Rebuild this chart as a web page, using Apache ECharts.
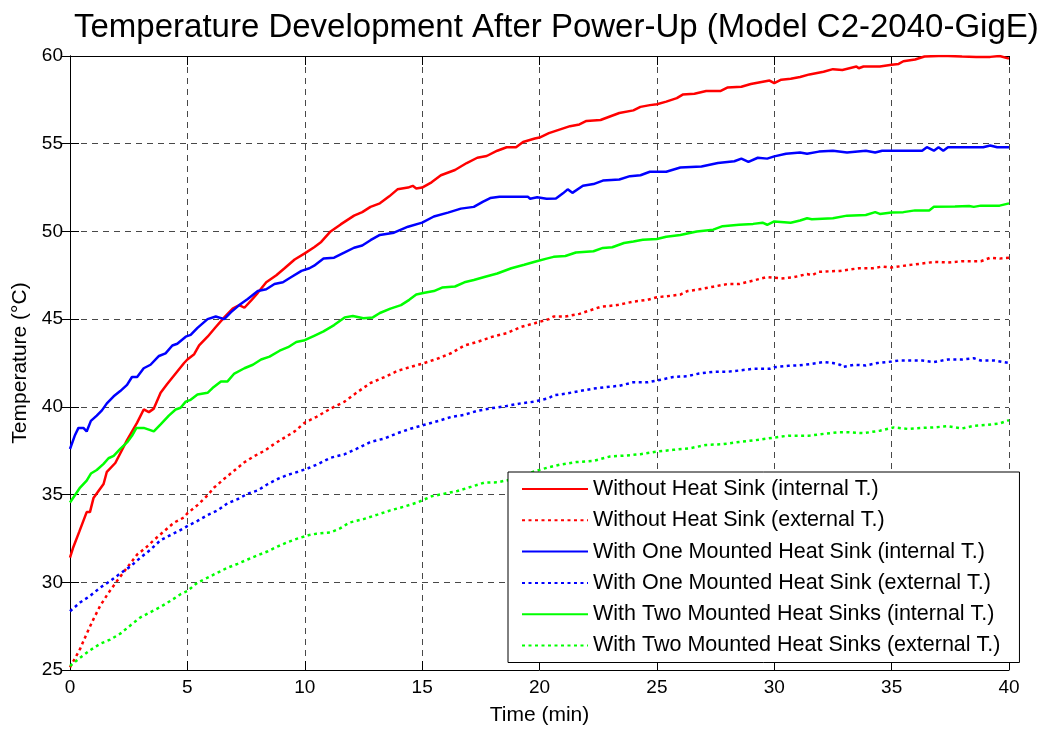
<!DOCTYPE html>
<html>
<head>
<meta charset="utf-8">
<script src="https://cdn.jsdelivr.net/npm/echarts@6/dist/echarts.min.js"></script>
<style>
  html, body { margin: 0; padding: 0; background: #fff; }
  #chart { width: 1050px; height: 731px; }
</style>
</head>
<body>
<div id="chart"></div>
<script>
// [time (min), temperature (°C)]
const noSinkInternal = [[0,31.4],[0.14,32.0],[0.4,32.9],[0.71,34.0],[0.85,34.0],[1.0,34.8],[1.43,35.6],[1.57,36.3],[1.93,36.8],[2.43,38.1],[2.86,39.1],[3.14,39.85],[3.36,39.7],[3.57,39.9],[3.86,40.8],[4.14,41.3],[4.5,41.9],[4.86,42.5],[5.0,42.7],[5.29,43.0],[5.5,43.5],[5.86,44.0],[6.21,44.55],[6.57,45.1],[6.93,45.6],[7.21,45.8],[7.43,45.65],[7.71,46.05],[8.0,46.5],[8.36,47.1],[8.79,47.5],[9.14,47.9],[9.57,48.4],[10,48.75],[10.4,49.1],[10.7,49.4],[11.1,50.0],[11.53,50.4],[12.1,50.9],[12.45,51.1],[12.8,51.4],[13.2,51.6],[13.6,52.0],[13.95,52.4],[14.4,52.5],[14.6,52.6],[14.75,52.45],[15.0,52.5],[15.4,52.8],[15.8,53.2],[16.4,53.5],[16.9,53.9],[17.35,54.2],[17.75,54.3],[18.2,54.6],[18.6,54.8],[19.0,54.8],[19.3,55.1],[19.8,55.3],[20,55.35],[20.4,55.6],[20.85,55.8],[21.3,56.0],[21.7,56.1],[22.0,56.3],[22.6,56.35],[23.0,56.55],[23.4,56.75],[24.0,56.9],[24.3,57.1],[24.7,57.2],[25,57.25],[25.4,57.4],[25.85,57.6],[26.1,57.8],[26.6,57.85],[27.1,58.0],[27.7,58.0],[28.0,58.2],[28.6,58.25],[29.0,58.4],[29.4,58.5],[29.8,58.6],[30,58.45],[30.3,58.65],[30.7,58.7],[31.1,58.8],[31.5,58.95],[32.1,59.1],[32.5,59.25],[32.9,59.2],[33.2,59.3],[33.5,59.4],[33.6,59.3],[33.8,59.4],[34.5,59.4],[35,59.5],[35.3,59.55],[35.5,59.7],[36.0,59.8],[36.4,59.97],[37.0,60.0],[37.4,60.0],[38.0,59.97],[38.6,59.95],[39.2,59.95],[39.6,60.0],[40,59.85]];
const noSinkExternal = [[0,25.15],[0.21,25.66],[0.43,26.2],[0.71,27.07],[1.0,27.9],[1.29,28.67],[1.64,29.4],[2.0,30.07],[2.43,30.83],[2.86,31.58],[3.21,31.95],[3.57,32.4],[4.0,32.9],[4.43,33.4],[4.86,33.7],[5,33.93],[5.43,34.4],[5.86,34.96],[6.14,35.4],[6.57,35.9],[7.0,36.37],[7.43,36.84],[7.86,37.2],[8.29,37.5],[8.71,37.9],[9.14,38.25],[9.57,38.6],[10,39.1],[10.5,39.43],[11.1,39.9],[11.7,40.3],[12.2,40.8],[12.8,41.36],[13.4,41.7],[13.95,42.05],[14.5,42.27],[15.1,42.5],[15.7,42.77],[16.25,43.07],[16.8,43.5],[17.35,43.7],[18.0,44.0],[18.6,44.2],[19.2,44.55],[19.8,44.77],[20.4,45.0],[20.6,45.15],[21.1,45.15],[21.7,45.3],[22.6,45.7],[23.3,45.8],[24.0,46.0],[24.6,46.1],[25,46.25],[25.4,46.3],[26.0,46.4],[26.3,46.6],[26.8,46.7],[27.4,46.85],[28.0,47.0],[28.5,47.0],[29.1,47.2],[29.7,47.4],[30.3,47.32],[30.8,47.38],[31.4,47.57],[31.6,47.5],[31.9,47.7],[32.8,47.75],[33.6,47.9],[34.2,47.9],[34.6,48.0],[35,47.94],[35.7,48.08],[36.3,48.17],[36.8,48.26],[37.4,48.23],[38,48.3],[38.8,48.3],[39.2,48.5],[39.6,48.45],[40,48.5]];
const oneSinkInternal = [[0,37.6],[0.2,38.35],[0.36,38.8],[0.57,38.8],[0.71,38.6],[0.89,39.2],[1.14,39.5],[1.36,39.8],[1.57,40.2],[1.86,40.6],[2.14,40.9],[2.43,41.25],[2.64,41.7],[2.86,41.7],[3.14,42.2],[3.43,42.4],[3.79,42.9],[4.07,43.05],[4.36,43.5],[4.57,43.6],[4.93,44.0],[5.14,44.1],[5.43,44.5],[5.86,45.0],[6.21,45.15],[6.57,45.0],[6.86,45.4],[7.21,45.8],[7.57,46.15],[8.0,46.6],[8.36,46.7],[8.71,47.0],[9.07,47.1],[9.43,47.4],[9.86,47.75],[10.2,47.9],[10.4,48.05],[10.8,48.45],[11.25,48.5],[11.7,48.8],[12.1,49.07],[12.45,49.2],[12.8,49.5],[13.2,49.8],[13.8,49.93],[14.4,50.27],[15.0,50.5],[15.5,50.85],[16.1,51.07],[16.65,51.3],[17.2,51.4],[17.6,51.7],[17.9,51.9],[18.3,51.98],[18.9,51.98],[19.5,51.98],[19.6,51.86],[19.9,51.95],[20.3,51.86],[20.7,51.88],[21.0,52.17],[21.2,52.4],[21.4,52.2],[21.85,52.6],[22.3,52.7],[22.7,52.9],[23.4,52.96],[23.85,53.15],[24.3,53.2],[24.7,53.4],[25.4,53.4],[26.0,53.64],[26.9,53.7],[27.6,53.9],[28.3,54.0],[28.6,54.15],[28.9,53.96],[29.3,54.2],[29.7,54.15],[30.0,54.28],[30.5,54.43],[31.1,54.5],[31.4,54.43],[31.9,54.55],[32.5,54.6],[33.1,54.5],[33.9,54.6],[34.3,54.5],[34.6,54.6],[35.7,54.6],[36.3,54.6],[36.5,54.8],[36.8,54.6],[37.0,54.8],[37.2,54.6],[37.4,54.8],[38.0,54.8],[38.9,54.8],[39.2,54.9],[39.5,54.8],[40,54.8]];
const oneSinkExternal = [[0,28.35],[0.43,28.85],[0.86,29.23],[1.29,29.7],[1.71,30.07],[2.14,30.5],[2.57,30.9],[3.0,31.4],[3.43,31.86],[3.86,32.4],[4.29,32.7],[4.64,32.93],[5.0,33.2],[5.43,33.5],[5.86,33.83],[6.29,34.1],[6.71,34.5],[7.14,34.74],[7.57,35.05],[8.0,35.24],[8.43,35.6],[8.86,35.9],[9.29,36.13],[9.71,36.3],[10.14,36.5],[10.5,36.7],[11.1,37.1],[11.7,37.3],[12.2,37.6],[12.8,38.0],[13.4,38.2],[13.95,38.5],[14.5,38.75],[15.1,38.98],[15.7,39.2],[16.25,39.43],[16.8,39.55],[17.35,39.77],[18.0,39.93],[18.6,40.05],[19.2,40.2],[19.8,40.3],[20.4,40.5],[20.6,40.66],[21.1,40.75],[21.7,40.9],[22.3,41.04],[22.85,41.13],[23.4,41.2],[24.0,41.4],[24.6,41.4],[25,41.5],[25.7,41.7],[26.3,41.75],[26.8,41.9],[27.4,42.0],[28.0,42.0],[28.5,42.07],[29.1,42.17],[29.8,42.17],[30,42.26],[30.6,42.34],[31.0,42.36],[31.6,42.45],[32.1,42.55],[32.5,42.5],[32.8,42.4],[32.9,42.27],[33.4,42.4],[33.9,42.36],[34.4,42.5],[35.0,42.58],[35.3,42.64],[36.3,42.64],[36.8,42.55],[37.4,42.7],[38.0,42.7],[38.5,42.77],[38.8,42.64],[39.4,42.64],[40,42.5]];
const twoSinksInternal = [[0,34.55],[0.21,34.96],[0.43,35.4],[0.71,35.8],[0.89,36.2],[1.14,36.4],[1.43,36.75],[1.64,37.07],[1.86,37.2],[2.14,37.6],[2.43,37.97],[2.64,38.35],[2.83,38.8],[3.14,38.8],[3.36,38.7],[3.57,38.6],[3.86,39.0],[4.21,39.5],[4.5,39.85],[4.71,39.95],[4.93,40.3],[5.14,40.4],[5.43,40.7],[5.86,40.8],[6.07,41.07],[6.43,41.45],[6.71,41.45],[7.0,41.9],[7.43,42.2],[7.79,42.4],[8.14,42.7],[8.5,42.86],[8.93,43.2],[9.29,43.4],[9.64,43.7],[10,43.8],[10.4,44.05],[10.8,44.3],[11.25,44.66],[11.7,45.1],[12.05,45.18],[12.5,45.05],[12.9,45.1],[13.2,45.35],[13.65,45.6],[14.1,45.8],[14.45,46.1],[14.75,46.4],[15.1,46.5],[15.5,46.6],[15.85,46.8],[16.4,46.86],[16.8,47.1],[17.2,47.23],[17.65,47.4],[18.2,47.6],[18.8,47.9],[19.35,48.1],[19.8,48.27],[20.3,48.45],[20.6,48.55],[21.1,48.6],[21.55,48.8],[22.3,48.87],[22.7,49.06],[23.1,49.1],[23.6,49.34],[24.0,49.43],[24.4,49.53],[25,49.57],[25.4,49.7],[26.0,49.8],[26.7,50.0],[27.4,50.1],[27.8,50.3],[28.5,50.38],[29.1,50.43],[29.5,50.5],[29.7,50.38],[30,50.57],[30.7,50.5],[31.1,50.62],[31.4,50.75],[31.6,50.7],[32.5,50.75],[33.1,50.9],[33.9,50.94],[34.3,51.1],[34.5,51.0],[35.0,51.08],[35.5,51.1],[36.0,51.2],[36.6,51.2],[36.8,51.4],[37.7,51.42],[38.3,51.45],[38.5,51.4],[38.8,51.47],[39.6,51.47],[40,51.6]];
const twoSinksExternal = [[0,25.23],[0.43,25.7],[0.86,26.13],[1.29,26.5],[1.71,26.73],[2.14,27.07],[2.57,27.54],[3.0,28.0],[3.43,28.3],[3.86,28.6],[4.29,28.95],[4.71,29.32],[5.0,29.5],[5.43,29.98],[5.86,30.26],[6.29,30.55],[6.71,30.83],[7.14,31.05],[7.57,31.3],[8.0,31.54],[8.43,31.77],[8.86,32.05],[9.29,32.3],[9.71,32.5],[10.2,32.7],[10.5,32.77],[11.1,32.84],[11.5,33.07],[11.9,33.4],[12.5,33.6],[13.1,33.86],[13.65,34.1],[14.2,34.3],[14.8,34.55],[15.4,34.9],[15.95,35.05],[16.5,35.2],[17.1,35.45],[17.65,35.68],[18.2,35.7],[18.8,35.86],[19.5,36.2],[20.15,36.47],[20.85,36.7],[21.55,36.85],[22.3,36.92],[23.0,37.17],[23.7,37.23],[24.3,37.3],[25.0,37.45],[25.7,37.55],[26.4,37.64],[27.1,37.83],[27.8,37.87],[28.5,38.0],[29.2,38.1],[30,38.25],[30.6,38.36],[31.5,38.36],[32.1,38.46],[32.7,38.55],[33.2,38.55],[33.8,38.5],[34.5,38.64],[35.1,38.83],[35.7,38.74],[36.3,38.8],[36.8,38.83],[37.4,38.9],[38.0,38.77],[38.5,38.92],[39.1,38.98],[39.6,39.05],[40,39.24]];

const seriesNames = [
  'Without Heat Sink (internal T.)',
  'Without Heat Sink (external T.)',
  'With One Mounted Heat Sink (internal T.)',
  'With One Mounted Heat Sink (external T.)',
  'With Two Mounted Heat Sinks (internal T.)',
  'With Two Mounted Heat Sinks (external T.)'
];
const seriesData = [noSinkInternal, noSinkExternal, oneSinkInternal, oneSinkExternal, twoSinksInternal, twoSinksExternal];
const seriesColors = ['#ff0000', '#ff0000', '#0000ff', '#0000ff', '#00ff00', '#00ff00'];

const FONT = "'Liberation Sans', Arial, sans-serif";
const dotted = [3, 3.5];

function axisBase(extra) {
  return Object.assign({
    type: 'value',
    axisLine: { show: true, lineStyle: { color: '#000', width: 1 } },
    axisTick: { show: true, inside: true, length: 9, lineStyle: { color: '#000' } },
    axisLabel: { show: false },
    splitLine: { show: false }
  }, extra);
}

const chart = echarts.init(document.getElementById('chart'), null, { renderer: 'canvas' });
chart.setOption({
  animation: false,
  backgroundColor: '#fff',
  title: {
    text: 'Temperature Development After Power-Up (Model C2-2040-GigE)',
    left: 69, top: 6,
    textStyle: { fontFamily: FONT, fontSize: 33, fontWeight: 'normal', color: '#000' }
  },
  grid: { left: 70, right: 41, top: 56, bottom: 61, containLabel: false },
  xAxis: [
    axisBase({
      min: 0, max: 40, interval: 5, position: 'bottom',
      name: 'Time (min)', nameLocation: 'middle', nameGap: 35,
      nameTextStyle: { fontFamily: FONT, fontSize: 21, color: '#000' },
      axisLabel: { show: true, fontFamily: FONT, fontSize: 19, color: '#000', margin: 8 },
      splitLine: { show: true, lineStyle: { color: '#484848', width: 1, type: [6, 5] } }
    }),
    axisBase({ min: 0, max: 40, interval: 5, position: 'top' })
  ],
  yAxis: [
    axisBase({
      min: 25, max: 60, interval: 5, position: 'left',
      name: 'Temperature (°C)', nameLocation: 'middle', nameGap: 35,
      nameTextStyle: { fontFamily: FONT, fontSize: 21, color: '#000' },
      axisLabel: { show: true, fontFamily: FONT, fontSize: 19, color: '#000', margin: 7 },
      splitLine: { show: true, lineStyle: { color: '#484848', width: 1, type: [6, 5] } }
    }),
    axisBase({ min: 25, max: 60, interval: 5, position: 'right' })
  ],
  legend: {
    orient: 'vertical',
    left: 508, top: 472,
    data: seriesNames,
    itemWidth: 66, itemHeight: 14, itemGap: 9.3,
    padding: [6, 19, 6, 13],
    backgroundColor: '#fff',
    borderColor: '#000', borderWidth: 1, borderRadius: 0,
    itemStyle: { opacity: 0 },
    textStyle: { fontFamily: FONT, fontSize: 21.5, lineHeight: 21, color: '#000' }
  },
  series: seriesNames.map((name, i) => ({
    name: name,
    type: 'line',
    data: seriesData[i],
    showSymbol: false,
    symbol: 'none',
    color: seriesColors[i],
    lineStyle: { color: seriesColors[i], width: 2.5, type: i % 2 === 1 ? dotted : 'solid' }
  }))
});
</script>
</body>
</html>
